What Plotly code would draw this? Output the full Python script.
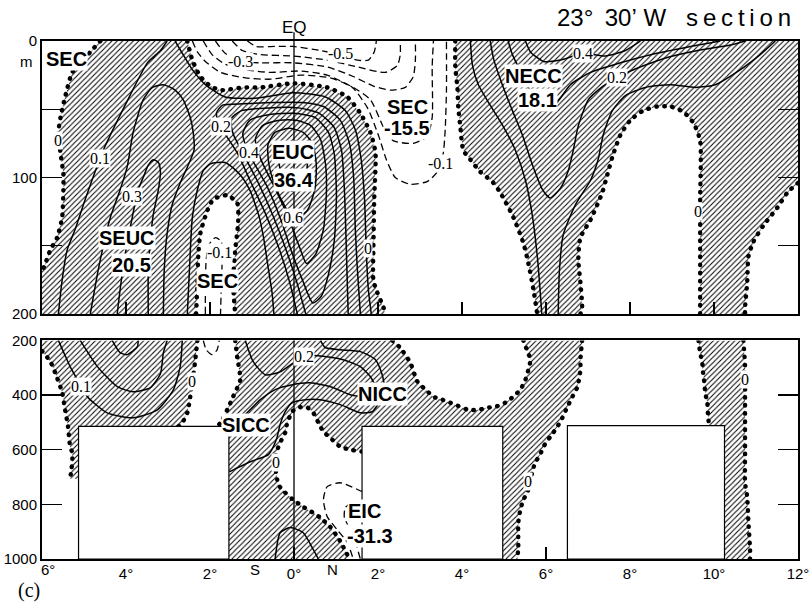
import plotly.graph_objects as go

# ---------------------------------------------------------------------------
# DATA  (longitude in degrees, negative = south; depth in metres)
# ---------------------------------------------------------------------------
# ---- upper panel 0-200 m : zero isotachs (dotted) ----
zero_A = [(-4.61, 0), (-4.85, 8), (-5.04, 15), (-5.28, 23), (-5.45, 41), (-5.56, 56), (-5.61, 67),
          (-5.56, 82), (-5.49, 98), (-5.49, 107), (-5.52, 129), (-5.64, 144), (-5.80, 153),
          (-5.92, 163), (-6.0, 169)]
zero_B = [(-2.54, 0), (-2.42, 14), (-2.23, 26), (-1.99, 33), (-1.75, 36), (-1.21, 34), (-0.80, 34),
          (-0.02, 31), (0.79, 34), (1.27, 41), (1.58, 53), (1.82, 67), (1.94, 82), (1.91, 116),
          (1.89, 153), (1.89, 175), (1.98, 184), (2.13, 195), (2.17, 200)]
zero_C = [(-2.33, 200), (-2.30, 177), (-2.28, 158), (-2.23, 141), (-2.06, 124), (-1.92, 116),
          (-1.59, 113), (-1.35, 119), (-1.33, 133), (-1.40, 153), (-1.45, 177), (-1.40, 200)]
zero_D = [(3.84, 0), (3.84, 19), (3.89, 34), (3.91, 48), (3.96, 63), (4.03, 80), (4.20, 87),
          (4.44, 96), (4.60, 100), (4.75, 104), (4.91, 111), (5.22, 129), (5.46, 148),
          (5.56, 160), (5.70, 182), (5.79, 200)]
zero_E = [(6.82, 200), (6.86, 195), (6.82, 177), (6.77, 160), (6.82, 144), (7.06, 131), (7.34, 111),
          (7.46, 98), (7.58, 85), (7.77, 69), (8.01, 58), (8.32, 51), (8.65, 48), (8.96, 48),
          (9.27, 52), (9.51, 60), (9.67, 73), (9.67, 116), (9.67, 153), (9.67, 200)]
zero_F = [(12.0, 104), (11.75, 111), (11.51, 122), (11.18, 135), (10.94, 147), (10.82, 158),
          (10.79, 177), (10.74, 195), (10.74, 200)]

# ---- upper panel : positive isotachs (solid) ----
seuc_01 = [(-3.02, 0), (-3.18, 7), (-3.49, 16), (-4.02, 47), (-4.54, 80), (-4.68, 91), (-4.97, 116),
           (-5.21, 138), (-5.40, 153), (-5.52, 175), (-5.61, 200)]
seuc_02 = [(-4.85, 200), (-4.73, 179), (-4.61, 160), (-4.37, 129), (-4.14, 109), (-3.97, 92),
           (-3.83, 67), (-3.59, 43), (-3.37, 34), (-3.11, 32), (-2.83, 36), (-2.64, 43), (-2.47, 56),
           (-2.40, 67), (-2.38, 80), (-2.52, 91), (-2.71, 104), (-2.90, 120), (-3.02, 141),
           (-3.09, 168), (-3.11, 200)]
seuc_03 = [(-4.21, 200), (-4.14, 182), (-4.04, 160), (-3.85, 129), (-3.71, 109), (-3.59, 100),
           (-3.47, 91), (-3.35, 87), (-3.23, 89), (-3.18, 96), (-3.23, 109), (-3.35, 127),
           (-3.42, 146), (-3.47, 168), (-3.47, 200)]
tongue_01 = [(-2.54, 200), (-2.49, 168), (-2.42, 129), (-2.30, 109), (-2.16, 95), (-1.99, 90),
             (-1.83, 89), (-1.64, 89), (-1.45, 93), (-1.23, 100), (-1.04, 110), (-0.92, 120),
             (-0.82, 130), (-0.72, 145), (-0.62, 165), (-0.52, 185), (-0.48, 200)]
euc_01 = [(-2.83, 0), (-2.64, 10), (-2.42, 21), (-2.11, 32), (-1.64, 41), (-0.92, 42), (-0.02, 38),
          (0.75, 41), (1.22, 51), (1.46, 65), (1.60, 87), (1.68, 116), (1.72, 153), (1.77, 182),
          (1.84, 200)]
euc_02 = [(0.08, 200), (-0.12, 175), (-0.38, 150), (-0.70, 125), (-1.05, 102), (-1.35, 82),
          (-1.60, 70), (-1.75, 63), (-1.85, 53), (-1.70, 47), (-1.20, 46), (-0.50, 45), (0.20, 45),
          (0.70, 48), (1.10, 58), (1.32, 75), (1.42, 100), (1.46, 138), (1.51, 168), (1.58, 200)]
euc_03 = [(0.28, 200), (0.05, 175), (-0.20, 152), (-0.50, 128), (-0.85, 104), (-1.22, 82),
          (-1.45, 68), (-1.50, 57), (-1.25, 51), (-0.60, 49), (0.10, 49), (0.60, 53), (0.95, 63),
          (1.13, 80), (1.20, 109), (1.24, 146), (1.29, 200)]
euc_04 = [(0.45, 192), (0.20, 175), (-0.05, 155), (-0.30, 132), (-0.65, 106), (-1.08, 82),
          (-1.22, 68), (-1.05, 58), (-0.60, 54), (0.00, 53), (0.50, 56), (0.82, 67), (0.96, 83),
          (1.01, 113), (0.96, 146), (0.82, 171), (0.65, 187), (0.45, 192)]
euc_05 = [(0.30, 163), (0.12, 150), (-0.15, 128), (-0.45, 108), (-0.80, 86), (-0.92, 72),
          (-0.75, 62), (-0.35, 58), (0.05, 58), (0.40, 62), (0.63, 72), (0.75, 90), (0.77, 113),
          (0.70, 138), (0.52, 156), (0.30, 163)]
euc_06 = [(0.00, 131), (-0.20, 122), (-0.45, 106), (-0.60, 90), (-0.62, 76), (-0.45, 67),
          (-0.10, 64), (0.22, 67), (0.44, 75), (0.53, 90), (0.50, 108), (0.32, 124), (0.00, 131)]
euc_07 = [(-0.05, 110), (-0.28, 100), (-0.36, 87), (-0.25, 77), (-0.02, 73), (0.22, 76),
          (0.32, 88), (0.25, 102), (-0.05, 110)]
necc_01w = [(4.20, 0), (4.25, 18), (4.39, 32), (4.67, 47), (4.97, 62), (5.27, 80), (5.51, 102),
            (5.67, 127), (5.80, 160), (5.90, 200)]
necc_01e = [(6.29, 200), (6.32, 168), (6.41, 142), (6.70, 120), (7.06, 102), (7.24, 87),
            (7.36, 69), (7.58, 51), (7.89, 40), (8.37, 34), (8.96, 32), (9.56, 34), (10.03, 32),
            (10.63, 21), (11.10, 10), (11.46, 0)]
necc_02 = [(4.67, 0), (4.76, 14), (4.96, 32), (5.20, 51), (5.44, 69), (5.68, 91), (5.92, 109),
           (6.10, 115), (6.34, 108), (6.53, 95), (6.65, 80), (6.77, 62), (7.01, 43), (7.36, 33),
           (7.70, 27), (8.01, 22), (8.79, 13), (9.61, 7), (10.39, 3), (10.74, 0)]
necc_03 = [(5.10, 0), (5.20, 10), (5.44, 25), (5.68, 40), (5.92, 51), (6.15, 49), (6.34, 42),
           (6.58, 32), (7.06, 23), (7.77, 16), (8.49, 10), (9.44, 4), (10.15, 0)]
necc_04 = [(5.51, 0), (5.63, 8), (5.94, 15), (6.34, 14), (6.89, 9), (7.41, 11), (7.89, 7), (8.25, 0)]

# ---- upper panel : negative isotachs (dashed) ----
sec_n01 = [(-2.42, 0), (-2.30, 8), (-2.11, 15), (-1.75, 23), (-1.16, 27), (-0.56, 28), (0.15, 25),
           (0.86, 27), (1.39, 34), (1.75, 49), (2.01, 69), (2.20, 87), (2.41, 100), (2.77, 105),
           (3.17, 103), (3.41, 96), (3.55, 83), (3.60, 65), (3.63, 36), (3.63, 0)]
sec_n02 = [(-2.16, 0), (-1.95, 10), (-1.64, 17), (-1.16, 21), (-0.56, 23), (0.15, 22), (0.79, 25),
           (1.41, 34), (1.82, 43), (2.13, 63), (2.36, 73), (2.84, 75), (3.17, 70), (3.29, 56),
           (3.29, 19), (3.32, 0)]
sec_n03 = [(-1.87, 0), (-1.64, 9), (-1.28, 15), (-0.80, 16), (-0.02, 16), (0.79, 19), (1.41, 26),
           (1.89, 33), (2.29, 36), (2.65, 34), (2.84, 26), (2.89, 14), (2.89, 0)]
sec_n04 = [(-1.47, 0), (-1.23, 7), (-0.80, 10), (-0.02, 11), (0.79, 14), (1.51, 19), (2.17, 23),
           (2.46, 18), (2.53, 10), (2.53, 0)]
sec_n05 = [(-1.11, 0), (-0.90, 4), (-0.45, 4), (-0.02, 4), (0.63, 7), (1.10, 10), (1.51, 14),
           (1.77, 14), (1.91, 8), (1.96, 0)]
tongue_n01 = [(-2.11, 200), (-2.11, 179), (-2.09, 160), (-2.02, 149), (-1.87, 144), (-1.73, 147),
              (-1.71, 159), (-1.73, 179), (-1.75, 200)]

# ---- lower panel 200-1000 m : zero isotachs (dotted) ----
zero_G = [(-6.0, 239), (-5.80, 278), (-5.64, 337), (-5.52, 391), (-5.45, 454), (-5.38, 516),
          (-5.33, 589), (-5.28, 611), (-5.28, 644), (-5.30, 673), (-5.33, 706)]
zero_H = [(-2.30, 200), (-2.35, 271), (-2.40, 333), (-2.47, 406), (-2.54, 465), (-2.66, 501),
          (-2.75, 515)]
zero_I = [(-1.40, 200), (-1.35, 263), (-1.28, 344), (-1.45, 406), (-1.59, 454), (-1.75, 501),
          (-1.83, 515)]
zero_J = [(1.62, 607), (1.34, 600), (1.10, 589), (0.86, 556), (0.70, 534), (0.58, 501), (0.46, 465),
          (0.32, 446), (0.08, 446), (-0.04, 461), (-0.16, 501), (-0.21, 538), (-0.33, 574),
          (-0.42, 611), (-0.45, 648), (-0.37, 728), (-0.21, 757), (-0.02, 783), (0.22, 809),
          (0.46, 831), (0.63, 849), (0.86, 882), (1.05, 922), (1.17, 955), (1.32, 1000)]
zero_K = [(2.34, 200), (2.53, 227), (2.77, 282), (2.94, 351), (3.13, 380), (3.32, 406), (3.53, 417),
          (3.72, 428), (3.96, 443), (4.15, 454), (4.39, 454), (4.60, 446), (4.79, 443), (5.03, 428),
          (5.22, 406), (5.39, 380), (5.51, 344), (5.58, 307), (5.63, 271), (5.56, 241), (5.46, 200)]
zero_L = [(6.86, 200), (6.82, 271), (6.82, 307), (6.75, 369), (6.63, 406), (6.51, 443), (6.39, 483),
          (6.27, 516), (6.10, 553), (5.94, 589), (5.86, 618), (5.74, 648), (5.67, 684), (5.60, 728),
          (5.56, 757), (5.46, 783), (5.39, 820), (5.34, 867), (5.34, 918), (5.34, 955), (5.32, 1000)]
zero_M = [(9.63, 200), (9.67, 245), (9.72, 282), (9.74, 318), (9.77, 355), (9.79, 391), (9.84, 428),
          (9.86, 483), (9.89, 512)]
zero_N = [(10.70, 200), (10.74, 296), (10.74, 417), (10.74, 538), (10.74, 600), (10.74, 721),
          (10.79, 772), (10.82, 867), (10.86, 966), (10.86, 1000)]

# ---- lower panel : positive isotachs (solid) ----
deep_w01 = [(-5.61, 200), (-5.46, 252), (-5.33, 296), (-5.13, 351), (-4.92, 406), (-4.45, 465),
            (-3.83, 483), (-3.25, 454), (-2.87, 380), (-2.71, 296), (-2.66, 200)]
deep_w02 = [(-5.09, 200), (-4.68, 296), (-4.21, 369), (-3.83, 388), (-3.42, 373), (-3.18, 322),
            (-3.11, 245), (-3.02, 200)]
deep_w03 = [(-4.33, 200), (-4.14, 245), (-3.97, 252), (-3.73, 223), (-3.71, 200)]
icc_01 = [(-1.54, 681), (-1.04, 644), (-0.61, 618), (-0.42, 563), (-0.33, 508), (-0.21, 461),
          (-0.04, 428), (0.27, 417), (0.63, 417), (1.10, 435), (1.58, 465), (1.86, 461),
          (2.05, 424), (2.25, 399)]
icc_02 = [(-1.54, 534), (-1.16, 472), (-0.80, 417), (-0.45, 380), (-0.04, 362), (0.39, 355),
          (0.94, 373), (1.34, 399), (1.70, 406), (2.05, 391)]
icc_03 = [(-1.16, 200), (-0.97, 278), (-0.68, 326), (-0.33, 315), (-0.04, 285), (0.24, 260),
          (0.58, 256), (1.17, 271), (1.58, 296), (1.82, 333), (1.96, 373)]
icc_04 = [(0.63, 200), (0.74, 226), (1.10, 234), (1.58, 241), (1.94, 271), (2.10, 326), (2.17, 380)]
eq_deep_01 = [(-0.45, 1000), (-0.33, 904), (-0.09, 885), (0.22, 904), (0.46, 966), (0.58, 1000)]

# ---- lower panel : negative isotachs (dashed) ----
deep_tongue_n01 = [(-2.16, 200), (-2.09, 234), (-1.95, 252), (-1.83, 234), (-1.78, 200)]
eic_n01 = [(1.63, 754), (1.10, 721), (0.79, 735), (0.70, 783), (0.79, 845), (1.03, 893),
           (1.27, 940), (1.41, 1000)]
eic_n02 = [(1.63, 794), (1.39, 794), (1.22, 812), (1.20, 849), (1.34, 893), (1.48, 948),
           (1.58, 1000)]

# ---- lower panel : stations without deep data (blank boxes) ----
nodata_lon0 = [-5.13, 1.62, 6.51]
nodata_lon1 = [-1.55, 4.97, 10.25]
nodata_top = [515, 515, 512]

# ---- labels (text, lon, depth) ----
core_labels_top = [("SEC", -5.42, 13), ("SEUC", -3.97, 144), ("20.5", -3.87, 164),
                   ("SEC", -1.82, 176), ("EUC", -0.03, 81), ("36.4", 0.01, 102),
                   ("SEC", 2.70, 48), ("-15.5", 2.68, 64), ("NECC", 5.70, 26), ("18.1", 5.80, 43)]
value_labels_top = [("0", -5.61, 73), ("0.1", -4.61, 86), ("0.3", -3.85, 114), ("0.2", -1.75, 63),
                    ("0.4", -1.08, 82), ("-0.3", -1.28, 15), ("-0.5", 1.10, 9), ("0.6", -0.03, 129),
                    ("-0.1", -1.77, 155), ("0", 1.77, 152), ("-0.1", 3.49, 90), ("0.4", 6.89, 9),
                    ("0.2", 7.70, 27), ("0", 9.63, 125)]
core_labels_bot = [("SICC", -1.15, 508), ("NICC", 2.11, 395), ("EIC", 1.68, 824), ("-31.3", 1.80, 915)]
value_labels_bot = [("0.1", -5.06, 367), ("0", -2.44, 351), ("0.2", 0.24, 260), ("0", -0.42, 648),
                    ("0", 5.58, 717), ("0", 10.74, 344)]

lon_ticks = [-4, -2, 0, 2, 4, 6, 8, 10, 12]
lon_ticktext = ["4°", "2°", "0°", "2°", "4°", "6°", "8°", "10°", "12°"]
depth_ticks_top = [0, 50, 100, 150, 200]
depth_text_top = ["0", "", "100", "", "200"]
depth_ticks_bot = [200, 400, 600, 800, 1000]
depth_text_bot = ["200", "400", "600", "800", "1000"]

# ---------------------------------------------------------------------------
SANS = "Liberation Sans, Arial, sans-serif"
SERIF = "Liberation Serif, Times New Roman, serif"
fig = go.Figure()
HATCH = dict(shape="/", size=3.8, solidity=0.27, fgcolor="black", bgcolor="white", fgopacity=1)
DOT_DASH = "0.5px,7.6px"


def xs(pts):
    return [p[0] for p in pts]


def ys(pts):
    return [p[1] for p in pts]


def add_hatch(pts, xa, ya):
    fig.add_trace(go.Scatter(x=xs(pts), y=ys(pts), mode="lines", fill="toself", fillcolor="white",
                             fillpattern=HATCH, line=dict(width=0, color="rgba(0,0,0,0)"),
                             xaxis=xa, yaxis=ya, hoverinfo="skip", showlegend=False))


def add_line(pts, xa, ya, kind):
    if kind == "pos":
        ln = dict(color="black", width=1.5)
    elif kind == "neg":
        ln = dict(color="black", width=1.3, dash="7px,4px")
    else:
        ln = dict(color="black", width=4.4, dash=DOT_DASH)
    ln["shape"] = "spline"
    ln["smoothing"] = 0.6
    fig.add_trace(go.Scatter(x=xs(pts), y=ys(pts), mode="lines", line=ln, xaxis=xa, yaxis=ya,
                             hoverinfo="skip", showlegend=False))


# hatched (eastward) regions, built from the zero isotachs
poly_top_west = zero_B + zero_C[::-1] + [(-6.0, 200)] + zero_A[::-1]
poly_top_east = zero_D + zero_E + zero_F[::-1] + [(12.0, 0)]
b0, b1, bt = nodata_lon0, nodata_lon1, nodata_top
poly_bot_west = [(-6.0, 200)] + zero_H + [(b0[0], bt[0]), (b0[0], zero_G[-1][1])] + zero_G[::-1]
poly_bot_mid = (zero_K + zero_L + [(b1[1], 1000), (b1[1], bt[1]), (b0[1], bt[1])] + zero_J +
                [(b1[0], 1000), (b1[0], bt[0])] + zero_I[::-1])
poly_bot_east = zero_M + [(b1[2], bt[2]), (b1[2], 1000)] + zero_N[::-1]

for p in (poly_top_west, poly_top_east):
    add_hatch(p, "x", "y")
for p in (poly_bot_west, poly_bot_mid, poly_bot_east):
    add_hatch(p, "x2", "y2")

for ln in (seuc_01, seuc_02, seuc_03, tongue_01, euc_01, euc_02, euc_03, euc_04, euc_05, euc_06,
           euc_07, necc_01w, necc_01e, necc_02, necc_03, necc_04):
    add_line(ln, "x", "y", "pos")
for ln in (sec_n01, sec_n02, sec_n03, sec_n04, sec_n05, tongue_n01):
    add_line(ln, "x", "y", "neg")
for ln in (zero_A, zero_B, zero_C, zero_D, zero_E, zero_F):
    add_line(ln, "x", "y", "zero")

for ln in (deep_w01, deep_w02, deep_w03, icc_01, icc_02, icc_03, icc_04, eq_deep_01):
    add_line(ln, "x2", "y2", "pos")
for ln in (deep_tongue_n01, eic_n01, eic_n02):
    add_line(ln, "x2", "y2", "neg")
for ln in (zero_G, zero_H, zero_I, zero_J, zero_K, zero_L, zero_M, zero_N):
    add_line(ln, "x2", "y2", "zero")

TOP_DOM = [0.473, 1.0]
BOT_DOM = [0.0, 0.422]
LON_RANGE = [-6, 12]
eq_paper = (0 - LON_RANGE[0]) / (LON_RANGE[1] - LON_RANGE[0])

shapes = []
for a, b, t in zip(nodata_lon0, nodata_lon1, nodata_top):
    shapes.append(dict(type="rect", xref="x2", yref="y2", x0=a, x1=b, y0=t, y1=1000,
                       fillcolor="white", line=dict(color="black", width=1.2), layer="above"))
shapes.append(dict(type="line", xref="paper", yref="paper", x0=eq_paper, x1=eq_paper,
                   y0=TOP_DOM[0], y1=1.017, line=dict(color="black", width=1.3), layer="above"))
shapes.append(dict(type="line", xref="paper", yref="paper", x0=eq_paper, x1=eq_paper,
                   y0=BOT_DOM[0], y1=BOT_DOM[1], line=dict(color="black", width=1.3), layer="above"))

ann = []
for t, x, y in core_labels_top:
    ann.append(dict(text="<b>%s</b>" % t, x=x, y=y, xref="x", yref="y", showarrow=False,
                    font=dict(family=SANS, size=20, color="black"), bgcolor="white", borderpad=0))
for t, x, y in value_labels_top:
    ann.append(dict(text=t, x=x, y=y, xref="x", yref="y", showarrow=False,
                    font=dict(family=SERIF, size=16, color="black"), bgcolor="white", borderpad=0))
for t, x, y in core_labels_bot:
    ann.append(dict(text="<b>%s</b>" % t, x=x, y=y, xref="x2", yref="y2", showarrow=False,
                    font=dict(family=SANS, size=20, color="black"), bgcolor="white", borderpad=0))
for t, x, y in value_labels_bot:
    ann.append(dict(text=t, x=x, y=y, xref="x2", yref="y2", showarrow=False,
                    font=dict(family=SERIF, size=16, color="black"), bgcolor="white", borderpad=0))

ann += [
    dict(text="23°\u00a0\u200930’\u00a0W\u00a0\u00a0\u00a0s\u2009e\u2009c\u2009t\u2009i\u2009o\u2009n",
         x=0.994, y=1.045, xref="paper", yref="paper", xanchor="right", yanchor="middle",
         showarrow=False, font=dict(family=SANS, size=24, color="black")),
    dict(text="EQ", x=0, y=1.026, xref="x", yref="paper", yanchor="middle", showarrow=False,
         font=dict(family=SANS, size=17, color="black")),
    dict(text="m", x=-0.009, y=15, xref="paper", yref="y", xanchor="right", showarrow=False,
         font=dict(family=SANS, size=15, color="black")),
    dict(text="6°", x=-5.85, y=-0.021, xref="x2", yref="paper", yanchor="middle", showarrow=False,
         font=dict(family=SANS, size=15, color="black")),
    dict(text="S", x=-0.92, y=-0.021, xref="x2", yref="paper", yanchor="middle", showarrow=False,
         font=dict(family=SANS, size=15, color="black")),
    dict(text="N", x=0.91, y=-0.021, xref="x2", yref="paper", yanchor="middle", showarrow=False,
         font=dict(family=SANS, size=15, color="black")),
    dict(text="(c)", x=-0.034, y=-0.06, xref="paper", yref="paper", yanchor="middle",
         showarrow=False, font=dict(family=SERIF, size=20, color="black")),
]

axis_common = dict(showgrid=False, zeroline=False, showline=True, linecolor="black", linewidth=2,
                   ticks="inside", tickcolor="black", tickwidth=1.5, automargin=False,
                   tickfont=dict(family=SANS, size=15, color="black"))

fig.update_layout(
    width=810, height=610, margin=dict(l=42, r=12, t=41, b=51, autoexpand=False),
    paper_bgcolor="white", plot_bgcolor="white", showlegend=False,
    xaxis=dict(domain=[0, 1], anchor="y", range=LON_RANGE, tickvals=[-4, -2, 2, 4, 6, 8, 10],
               ticklen=12, showticklabels=False, mirror=True, **axis_common),
    yaxis=dict(domain=TOP_DOM, anchor="x", range=[200, 0], tickvals=depth_ticks_top,
               ticktext=depth_text_top, ticklen=20, mirror="ticks", **axis_common),
    xaxis2=dict(domain=[0, 1], anchor="y2", range=LON_RANGE, tickvals=lon_ticks,
                ticktext=lon_ticktext, ticklen=12, mirror=True, **axis_common),
    yaxis2=dict(domain=BOT_DOM, anchor="x2", range=[1000, 200], tickvals=depth_ticks_bot,
                ticktext=depth_text_bot, ticklen=20, mirror="ticks", **axis_common),
    shapes=shapes, annotations=ann,
)

# page styling: no body margin, round caps for the dotted zero isotachs
POST = """
document.body.style.margin='0';document.body.style.padding='0';document.body.style.overflow='hidden';
function roundDots(){
  document.querySelectorAll('path.js-line').forEach(function(p){
    var d = p.style.strokeDasharray || p.getAttribute('stroke-dasharray') || '';
    if (d.indexOf('0.5px') >= 0) { p.style.strokeLinecap = 'round'; }
  });
}
roundDots();
var gd = document.getElementById('{plot_id}');
if (gd && gd.on) { gd.on('plotly_afterplot', roundDots); }
"""

fig.write_html("out.html", config={"displayModeBar": False, "staticPlot": True}, post_script=POST)
